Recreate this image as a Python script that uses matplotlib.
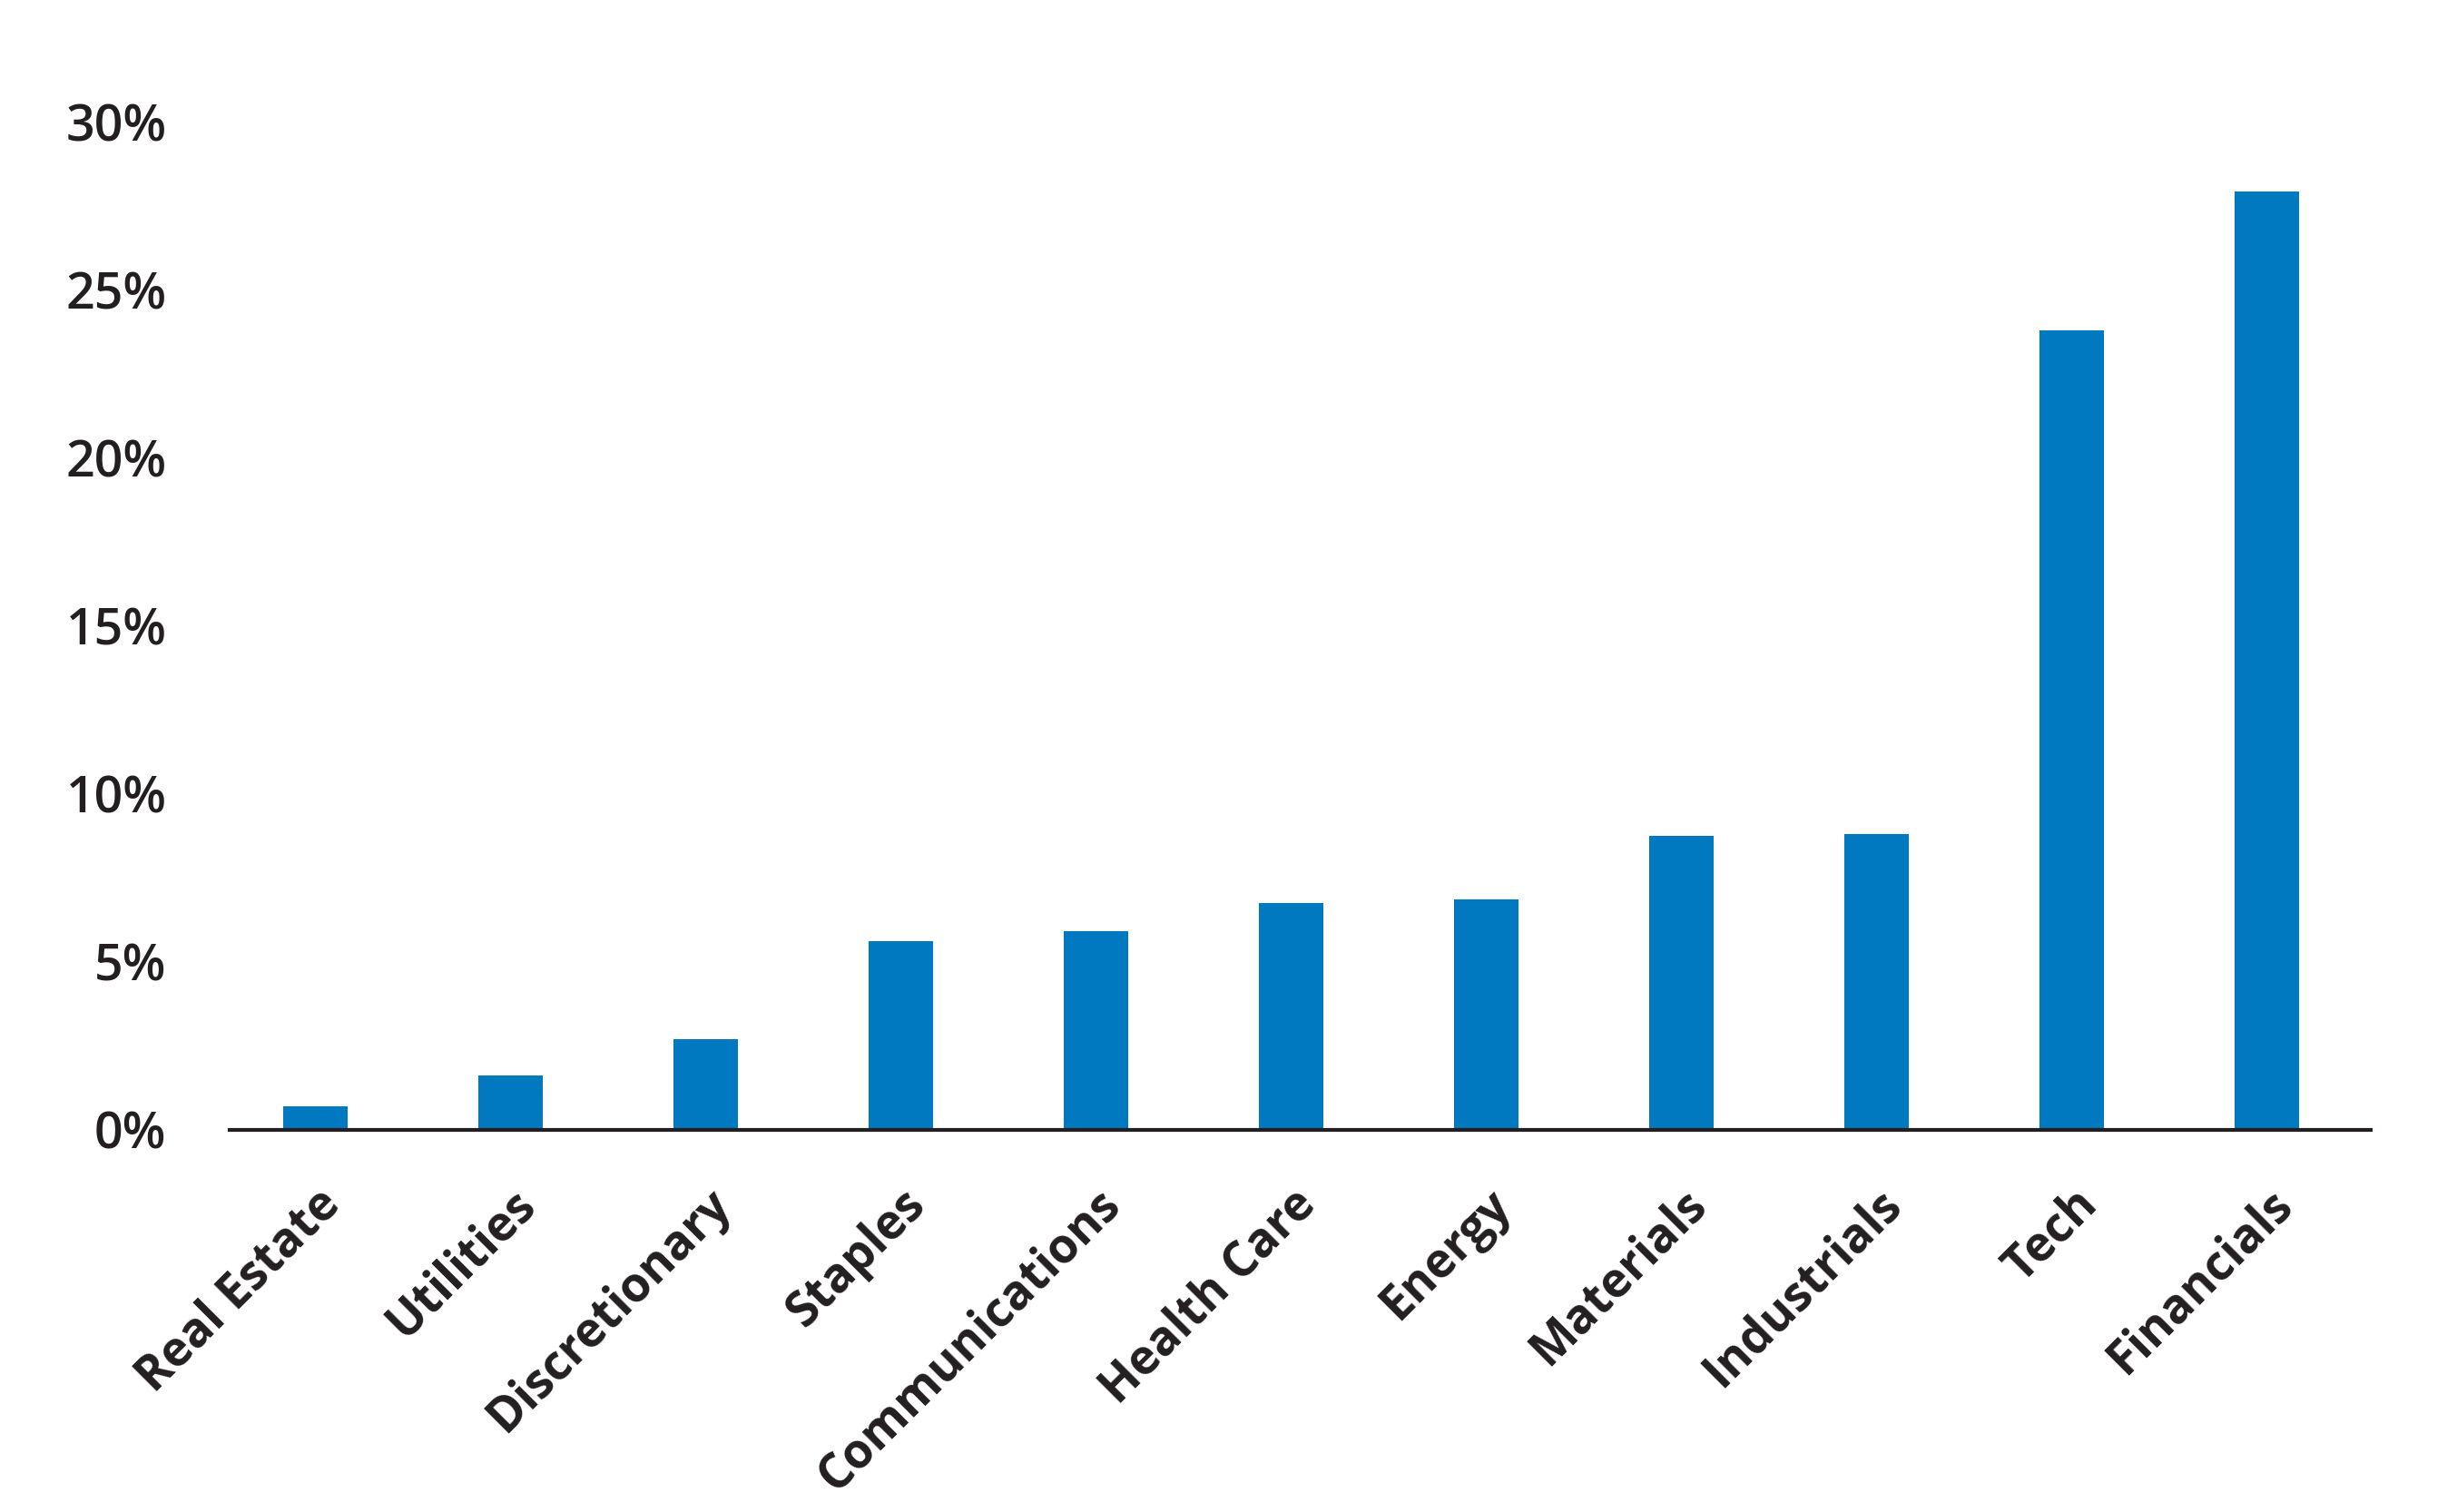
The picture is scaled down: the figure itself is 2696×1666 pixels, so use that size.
import matplotlib.pyplot as plt
import numpy as np

# Sector data (percent)
sectors = ['Real Estate', 'Utilities', 'Discretionary', 'Staples', 'Communications',
           'Health Care', 'Energy', 'Materials', 'Industrials', 'Tech', 'Financials']
weights = [0.7, 1.6, 2.7, 5.6, 5.9, 6.75, 6.85, 8.75, 8.8, 23.8, 27.95]
y_ticks = [0, 5, 10, 15, 20, 25, 30]

barBlue = '#0079C0'
textDark = '#231F20'

plt.rcParams['font.family'] = ['Open Sans', 'DejaVu Sans']

fig = plt.figure(figsize = (26.96, 16.66), dpi = 100)
ax = fig.add_axes([0.0938, 0.253, 0.875, 0.666])

index = np.arange(len(sectors))
ax.bar(index, weights, 0.33, color = barBlue, zorder = 2)

ax.set_xlim(-0.44, 10.53)
ax.set_ylim(0, 30)

ax.set_yticks(y_ticks)
ax.set_yticklabels([f'{t}%' for t in y_ticks], fontsize = 40, fontweight = 'semibold', color = textDark)
ax.tick_params(axis = 'y', length = 0, pad = 50)

ax.set_xticks(index)
ax.set_xticklabels(sectors, rotation = 45, ha = 'right', rotation_mode = 'anchor',
                   fontsize = 38, fontweight = 'bold', color = textDark)
ax.tick_params(axis = 'x', length = 0, pad = 40)

for side in ['top', 'right', 'left']:
    ax.spines[side].set_visible(False)
ax.spines['bottom'].set_linewidth(3)
ax.spines['bottom'].set_color(textDark)
ax.spines['bottom'].set_zorder(3)

plt.savefig('out.png', dpi = 100)
